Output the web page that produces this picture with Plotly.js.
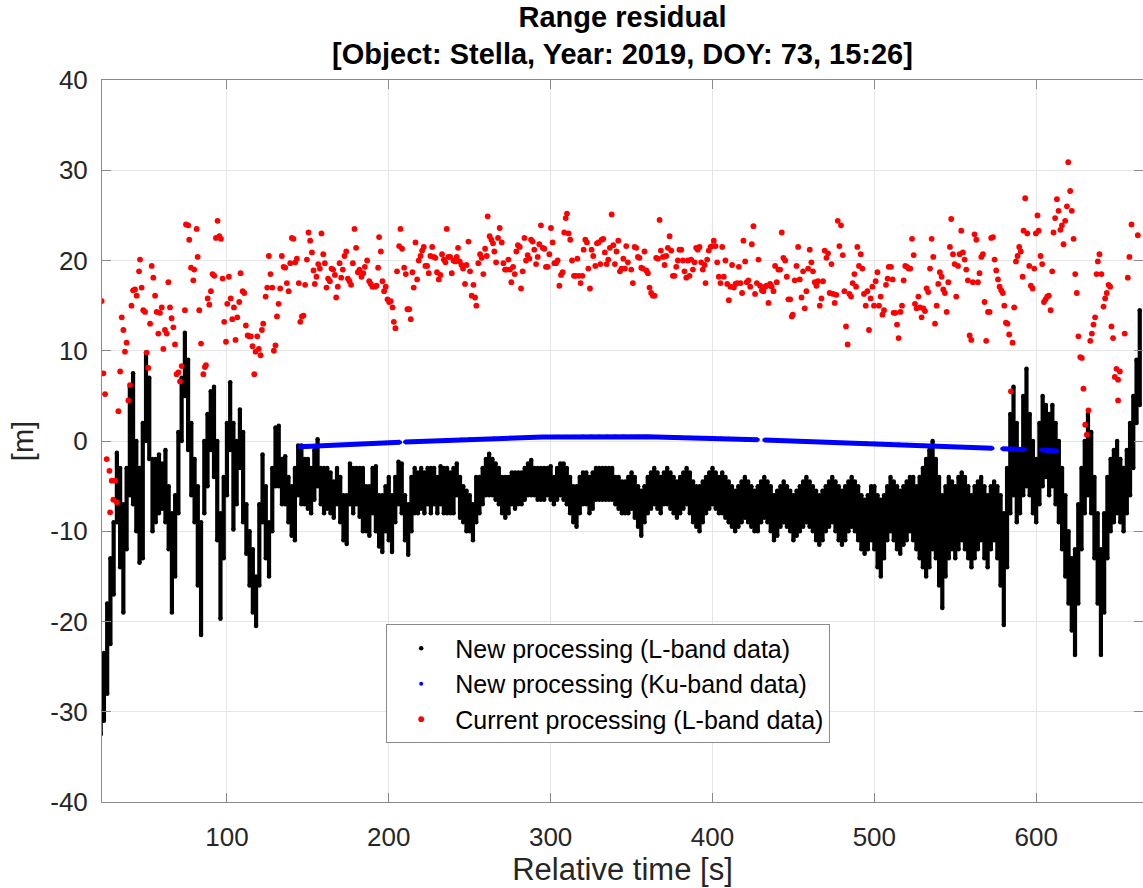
<!DOCTYPE html>
<html>
<head>
<meta charset="utf-8">
<script src="https://cdn.plot.ly/plotly-3.0.1.min.js"></script>
<style>
html,body{margin:0;padding:0;overflow:hidden;background:#fff;}
#chart{width:1143px;height:888px;}
</style>
</head>
<body>
<div id="chart"></div>
<script>
// ---- New processing (L-band): sampled every 2 s, upper / lower extent of the dense cloud ----
const blackT = [
22,24,26,28,30,32,34,36,38,40,
42,44,46,48,50,52,54,56,58,60,
62,64,66,68,70,72,74,76,78,80,
82,84,86,88,90,92,94,96,98,100,
102,104,106,108,110,112,114,116,118,120,
122,124,126,128,130,132,134,136,138,140,
142,144,146,148,150,152,154,156,158,160,
162,164,166,168,170,172,174,176,178,180,
182,184,186,188,190,192,194,196,198,200,
202,204,206,208,210,212,214,216,218,220,
222,224,226,228,230,232,234,236,238,240,
242,244,246,248,250,252,254,256,258,260,
262,264,266,268,270,272,274,276,278,280,
282,284,286,288,290,292,294,296,298,300,
302,304,306,308,310,312,314,316,318,320,
322,324,326,328,330,332,334,336,338,340,
342,344,346,348,350,352,354,356,358,360,
362,364,366,368,370,372,374,376,378,380,
382,384,386,388,390,392,394,396,398,400,
402,404,406,408,410,412,414,416,418,420,
422,424,426,428,430,432,434,436,438,440,
442,444,446,448,450,452,454,456,458,460,
462,464,466,468,470,472,474,476,478,480,
482,484,486,488,490,492,494,496,498,500,
502,504,506,508,510,512,514,516,518,520,
522,524,526,528,530,532,534,536,538,540,
542,544,546,548,550,552,554,556,558,560,
562,564,566,568,570,572,574,576,578,580,
582,584,586,588,590,592,594,596,598,600,
602,604,606,608,610,612,614,616,618,620,
622,624,626,628,630,632,634,636,638,640,
642,644,646,648,650,652,654,656,658,660,
662,664];
const blackHi = [
-24,-23.5,-18,-13,-9,-1.3,-3,-7,-3,6,
7.5,0,-3,2,9.8,7,-2,-2,-1.5,-2.5,
-1,-5,-8,-6,1,7,12,9,2,-2,
-5,-9,0,3,5.5,6,0,-8,-4,2,
6.5,2,0,3.5,1,-7,-10,-12,-15,-7,
-1.5,-5,-9,-3,1.5,1.7,-2,-1.7,-4,-5,
-3,-0.5,-0.5,-2,-2,-3,-1,0.2,-3,-3,
-3,-3.5,-4.5,-3,-4,-6,-6,-2.5,-3,-3,
-3,-3,-5,-5,-3,-2.8,-6,-6,-5,-4,
-6,-4,-2.3,-2.5,-6,-7,-4,-3,-3.5,-3,
-3.5,-3,-3,-3,-4,-2.8,-3,-3,-3.5,-3,
-2.5,-4,-5,-5.5,-6,-7,-4,-4,-3,-2,
-1.4,-2,-2.5,-3,-4,-4,-4,-3.5,-3.5,-3.5,
-3.5,-3,-2.5,-2.1,-3,-3,-3,-3,-3,-2.8,
-4,-3,-2.5,-2.5,-3,-4,-5,-5,-4,-3.5,
-3.5,-4,-3.5,-3,-3,-3,-3,-3,-3,-4,
-4,-4.5,-4.5,-4,-3.5,-4,-5,-5.5,-5,-4,
-3.5,-3,-3.5,-4,-3.5,-3,-3.5,-4,-4.5,-4,
-3.5,-3,-3.5,-4.5,-5,-5,-4.5,-4,-3.5,-3,
-3.5,-4,-3.5,-4,-4.5,-5,-5.5,-5,-4.5,-4,
-4.5,-5,-5.5,-5,-4.5,-4,-4.5,-5,-6,-5.5,
-5,-4.5,-5,-5.5,-6,-5.5,-5,-4.5,-4,-4.5,
-5,-5.5,-6,-5.5,-5,-4.5,-4,-4.5,-5,-5.5,
-5,-4.5,-4,-4.5,-5,-6,-6.5,-6,-5,-5,
-6,-6.5,-6,-5,-4,-4.5,-5,-5.5,-5,-4.5,
-4,-4,-5,-4,-3,-2,-1,0,-2,-4,
-6,-5,-4,-4.5,-5,-4,-3.5,-4,-5,-6,
-5,-4.5,-4,-5,-6,-5,-4.5,-5,-6,-8,
-3,3,6,2,-1,5,8,3,0,-2,
2,5,4,3,4,2,0,-3,-6,-10,
-13,-12,-7,-3,0,3,1,-4,-8,-12,
-8,-4,-2,-1,0,-2,-3,-1,2,5,
9,14.5];
const blackLo = [
-32.5,-31,-28,-22.5,-17,-9,-14,-19,-12,-6,
-7,-10,-13.5,-13,0,-2,-10,-9,-8,-7.5,
-9,-12,-19,-15,-8,0,5,-1,-6,-9,
-16,-21.5,-8,-5,-1,-4,-11,-19.7,-13,-6,
-1,-9.8,-7,-3,-9,-12.5,-16,-19,-20.5,-16,
-9,-13,-15,-10,-5,-5,-7,-7,-9,-10.5,
-11,-6,-7,-7,-7.5,-8,-6.5,-5,-7,-8,
-7.5,-8,-8.5,-7,-9,-11,-11.4,-7,-8,-7,
-8.4,-10,-10,-10.5,-8,-10,-11.7,-12.3,-10,-11,
-12.3,-9,-7,-8,-11,-12.6,-10,-8,-8,-7.5,
-8,-7,-8,-7,-8,-7,-8,-8,-8,-8,
-6,-8.5,-9,-10,-10,-11,-9,-8,-7,-6,
-6,-6,-6.5,-7,-8,-8.5,-8,-7,-7.5,-7,
-7,-6.5,-6,-6,-6,-6.5,-6.5,-6.5,-6,-6.5,
-7,-6.5,-6,-6.5,-7,-8,-9,-9.5,-8,-7,
-7,-8,-7.5,-6.5,-6.5,-6.5,-6.5,-6.5,-6.5,-7,
-7.5,-8,-8,-8,-7.5,-8.5,-9.5,-10.5,-9,-8,
-7.5,-7,-7.5,-8,-7,-7,-7.5,-8,-8.5,-8,
-7.5,-7,-8,-9,-9.5,-10,-9,-8,-7.5,-7,
-7.5,-8,-8,-8.5,-9,-9.5,-10,-9.5,-9,-8.5,
-9,-9.5,-10,-10,-9,-8.5,-9,-10,-11,-10.5,
-9.5,-9,-9.5,-10,-11,-10.5,-10,-9.5,-9,-9.5,
-10,-11,-11.5,-11,-10,-9.5,-9,-10,-11,-11.5,
-11,-10,-9.5,-10,-11,-12,-12.5,-12,-11,-12,
-14,-15,-13,-11,-10,-11,-12,-12.5,-11.5,-11,
-10,-11,-12,-13,-14,-15,-14,-12,-13,-16,
-18.5,-15,-13,-12,-13,-12,-11,-12,-13,-14,
-13,-12,-11,-13,-14,-12,-11,-13,-16,-20.4,
-14,-8,-6,-9,-8,-6,-5,-6,-8,-9,
-7,-5,-4,-6,-5,-7,-9,-12,-15,-18,
-21,-23.7,-18,-12,-8,-6,-8,-13,-18,-23.7,
-19,-13,-10,-9,-8,-9,-10,-8,-6,-3,
2,4];

// ---- New processing (Ku-band) ----
const kuT = [145,150,155,160,165,170,175,180,185,190,195,200,205,207,208.5,
210,215,220,225,230,235,240,245,250,255,260,265,270,275,280,285,290,295,300,
305,310,315,320,325,330,335,340,345,350,355,360,365,370,375,380,385,390,395,400,
405,410,415,420,425,428,430,
432,435,440,445,450,455,460,465,470,475,480,485,490,495,500,505,510,515,520,525,
530,535,540,545,550,555,560,565,570,573,576,
579,585,590,593,598,
603,608,613];
const kuV = [-0.65,-0.6,-0.56,-0.52,-0.48,-0.44,-0.4,-0.36,-0.32,-0.28,-0.24,-0.2,-0.16,-0.15,null,
-0.12,-0.08,-0.04,0,0.04,0.08,0.12,0.16,0.2,0.23,0.26,0.29,0.32,0.35,0.37,0.39,0.41,0.43,0.45,
0.46,0.47,0.48,0.49,0.5,0.5,0.5,0.5,0.49,0.48,0.47,0.46,0.44,0.42,0.4,0.38,0.36,0.34,0.32,0.3,
0.27,0.24,0.21,0.18,0.15,0.13,null,
0.1,0.08,0.05,0.02,-0.01,-0.04,-0.07,-0.1,-0.13,-0.16,-0.19,-0.22,-0.24,-0.26,-0.28,-0.3,-0.34,-0.38,-0.42,-0.46,
-0.5,-0.54,-0.58,-0.62,-0.66,-0.69,-0.72,-0.75,-0.78,-0.8,null,
-0.85,-0.9,-0.93,-0.95,null,
-1.0,-1.05,-1.1];

// ---- Current processing (L-band) ----
const redT = [22.6,23.7,24.7,25.7,27.4,27.8,28.8,29.8,30.9,31.9,32.9,34,35,36,37,38,39.1,40.1,41,42,
43.2,44.2,45.7,46.3,47.3,48.3,49.4,50.4,51.4,52.5,53.5,54.5,55.6,56.6,57.6,58.6,59.7,60.7,61.7,62.8,
63.8,64.8,65.8,66.9,67.9,68.9,70,71,72,74,74.7,76.1,76.7,77.8,79.2,79.8,81.3,81.9,82.9,84,
85.4,86.4,87,88.1,89.1,90.1,91.1,92.2,93.2,94.2,95.3,96.3,97.3,98.3,99.4,100.2,101.2,102.3,103.3,104.3,
105.3,106.4,107.6,108.4,109.7,110.7,111.7,112.8,113.8,114.8,115.8,116.9,117.7,118.7,119.7,120.8,121.6,122.4,123.9,124.9,
125.9,126.9,128,129,130,130.9,131.9,132.9,133.9,135,136,137,138.1,139.1,140.1,141.1,142.2,143.2,144.4,145.3,
146.3,147.3,148.3,149.4,150.4,151.4,152.5,153.5,154.3,155.3,156.4,157.4,158.4,159.5,160.5,161.5,162.5,163.6,164.6,165.6,
166.7,167.5,168.5,169.6,170.6,171.6,172.6,173.7,174.7,175.7,176.7,177.8,178.8,179.8,180.9,181.9,
183.1,184.2,185.2,186.6,187.9,188.9,189.9,191.4,192.4,193.4,194,195.1,196.1,197.1,198.1,199.2,200.2,201.2,202.3,203.1,
204.1,205.1,206.4,207.2,208.2,209.5,210.5,211.5,212.6,213.6,214.6,215.4,216.5,217.5,218.5,219.6,220.6,221.6,222.6,223.7,
224.7,225.7,226.8,227.8,228.8,229.8,230.9,231.9,232.9,234,235,235.8,236.8,237.9,238.9,239.9,241,242,242.8,243.8,
244.9,245.9,247.1,248,249.2,250.2,251.2,252.3,253.3,254.1,255.3,256.4,257.4,258.4,259.5,260.5,261.1,262.3,263.4,264.4,
265.2,266.3,267.5,268.5,269.8,270.8,271.8,272.8,273.9,274.9,275.7,276.8,277.8,278.8,279.8,280.9,281.7,282.7,283.8,284.8,
285.8,286.8,287.9,288.9,289.9,291,292,293,294,295.1,296.1,297.1,298.2,299.2,300.2,301.2,302.3,303.3,304.3,305.4,
306.4,307.4,308.4,309.3,310.1,311.1,312.1,313.2,314.4,315.4,316.5,317.5,318.5,319.6,320.4,321.4,322.4,323.3,324.3,325.3,
326.3,327.6,328.6,329.6,330.7,331.5,332.5,333.5,334.6,335.6,336.6,337.7,338.7,339.7,340.7,341.8,342.8,343.8,344.9,345.9,
346.7,347.7,349.8,350.8,351.9,352.9,353.9,354.9,356,357,358,359.1,360.1,361.1,362.1,363.2,364.2,365.2,366.3,367.3,
368.1,369.4,370.4,371.4,372.4,373.5,374.5,375.5,376.5,377.6,378.6,379.6,380.7,381.7,382.7,383.8,384.8,385.8,386.8,387.9,
388.9,389.9,390.9,392,393,394,395.1,395.7,396.7,397.7,398.8,399.8,400.8,401.9,402.9,403.9,404.9,406,407,408,
409.1,410.1,411.1,412.1,413.2,414.2,415.2,416.3,417.3,418.3,419.1,420.2,421.2,422.2,423.3,424.3,425.3,426.3,427.4,428.4,
429.4,430.5,431.5,432.5,433.5,434.6,435.6,436.6,437.7,438.7,439.7,440.7,441.8,442.8,443.8,444.9,445.9,446.9,448,449,
449.6,450.8,451.9,452.9,453.9,455,456,457,458,459.1,460.1,461.1,462.1,463.2,464.2,465.2,466.3,467.3,468.3,469.3,
470.4,471.4,472.4,473.5,474.5,475.5,476.5,477.4,478.4,479.4,480.5,481.5,482.5,483.5,484.6,485.6,486.6,487.7,488.7,489.5,
490.5,491.6,492.6,493.6,494.7,495.7,496.7,497.7,498.8,499.8,500.8,501.9,502.9,503.9,505,506,507.2,508.2,508.9,
510.3,511.3,511.9,513,514,515,516.1,517.1,518.1,519.1,520.2,521.2,522.2,523.3,524.3,525.1,526.1,527.2,528.2,529.2,
530.3,531.3,532.3,533.3,534.4,535.4,536.4,537.5,538.5,539.5,540.5,541.6,542.6,543.6,544.7,545.7,546.7,547.5,548.6,549.6,
550.6,551.7,552.7,553.7,554.7,555.8,556.8,557.8,558.9,559.9,560.9,561.9,563,564,565,566.1,567.1,568.1,569.1,570.2,
571.2,572.2,573.3,574.3,575.3,576.4,577.4,578.4,579.4,580.3,581.3,582.3,583.3,584.4,585.4,586.4,587.5,588.5,589.5,590.5,
591.6,592.2,593.2,594.5,595.7,596.7,597.8,598.8,599.8,600.8,601.5,602.7,603.7,604.8,605.8,606.8,607.8,608.9,609.9,610.7,
611.7,612.8,613.8,615,615.9,616.9,617.9,619,619.8,621,622,623.1,624.1,625.1,626.1,627.2,628.2,629.2,630.3,631.3,
632.3,633.4,634.4,635.4,636.4,637.3,638.1,639.1,640.3,641.6,642.6,643.6,644.7,645.7,646.5,647.5,648.6,649.6,650.6,651.7,
650.6,654.7,656.6,657.6,658.9,662.8];
const redV = [15.5,7.5,5.2,-2,-3.3,-7.9,-4.4,-6.5,-4.4,-6.8,3.3,7.7,13.7,12.3,9.9,10.9,4.5,6.2,15,16.7,
16.8,16.1,18.8,20.1,17,14.5,14.3,9.8,8.1,13,19.4,18.1,16.1,14.3,11.9,14.2,14.8,10.2,12.3,11.9,
17.6,14.8,13.6,12.6,10.7,7.4,7.6,6.6,8.3,14.5,24,23.9,22.3,19.2,17.8,19,23.5,20.4,14.5,10.8,
7.4,8.2,8.4,15.8,15.1,16.6,18.5,18.3,22.5,24.4,22.7,22.4,18,13.2,11,15.2,18.2,15.8,13.5,14.8,
11.2,13.7,15.4,18.6,16.6,16.4,12.8,11.7,11.6,11.6,10.5,7.4,9.9,11.6,10.2,9.5,12.3,13,16,17,
20.5,18.5,17,10,10.6,13.8,15.2,16.9,20.5,19.3,19.2,17.5,16.6,19.7,22.5,22.4,19.8,20.2,17.5,13.2,
13.8,13.9,17.3,20.1,23.1,22.2,20.9,18.9,17.4,18.2,19.6,19.1,23,20.7,19.7,17,18,17.7,19.1,19,
18.4,15.9,17.1,19.7,18.1,19,20.5,21,18,17.7,17.3,19.7,23.5,21.4,18.7,19,
18.2,18.6,19.3,20,17.7,17.4,17.1,17.1,17.2,19.2,22.6,21,17.7,16.6,17.1,15.7,15.4,15.5,14.8,13.2,
12.5,18.8,21.6,23.5,21.3,19.2,18.5,14.6,14.6,13.5,18.7,17,22,17.9,20,20.5,21.1,21.5,19.4,19.4,
18.6,20.5,21.5,20.4,20.3,18.7,17.9,18.4,20.7,20.1,19.8,23.5,20.4,20.4,18.6,20,19.9,20.4,21.4,19.9,
19.5,19.1,17.4,19.5,22.1,18.8,16.1,17.3,15.9,15,19.7,20.7,20.3,18.5,21.3,20.5,24.9,22.7,22.3,21.9,
21,19.8,22.5,23.6,22,19.7,19,19,20.1,19,17.6,19.3,18.5,21,21.7,21.5,16.9,18.8,22.5,20,
20.6,20.2,22.3,22.1,21.2,19.6,20.4,21.8,23.9,21.4,21.3,19.3,19.3,20.7,23.6,22,19.7,19.7,20,17.2,
18.4,18.7,23.1,24.7,25.2,23,22.3,20,18.3,18.3,20.2,18.3,17.5,18.3,21.2,22.3,22,19.1,16.9,21.2,
20.5,19.4,21.9,22,19.6,22.3,22.4,20.9,19.6,20.1,21.4,25.1,21.7,19.6,21,22.2,18.8,19.1,20.2,19.1,
21.6,19.8,19,17.5,21.5,21.4,20.4,20.3,19.2,19.1,21,18.9,18.6,17,16.4,16.1,16.1,20.3,20.2,24.5,
21.1,20.4,19.5,20.5,21.4,22.7,21.1,18.3,18.3,19.3,20,21.2,21.2,20,18.8,18.1,20,18.3,20.1,19,
19.8,21.4,21.2,21.5,19.8,19,19.5,17.5,20.1,21.1,21.5,21.6,22.2,21.6,19.8,18.2,17.5,21.5,18.2,20,
17.4,15.6,17.1,19.5,17,17.4,17.5,19.3,17.5,16.4,22.2,19.9,17.6,17.8,17.1,21.8,23.8,16.3,17.5,20.1,
17.2,16.7,16.6,17.1,17.2,15.3,17.4,17.1,16.6,19.4,17.6,19,19,23.1,20.3,20,18.2,15.7,15.7,13.8,
14,17.8,19.4,21.5,17.9,15.9,18.8,14.7,16.6,19.1,21.2,19.8,18.8,17.6,17.2,17.7,15,15.8,17.7,21.1,
20.3,20.8,16.4,19.6,16.3,15.3,16.2,24.4,21.6,23.9,20.6,16.6,12.7,10.7,16.3,16,17.5,18.5,17.1,21.5,
19.4,20.7,19.1,16.3,15,16.6,12.3,15.8,17.1,15,17.7,18.7,15,16,14,14.5,17.3,18,19.3,
19.3,17.9,14.2,14.2,12.9,11.4,14.3,15,17.8,19.4,19.3,19.1,19.1,22.4,20.6,15.2,14.7,16,14.8,13.7,
14.7,14.4,16.9,16.5,19.1,22.4,20.4,13,15,17.4,18.7,18.2,16.8,16.4,14.3,17.6,21.5,24.6,20.7,19.6,
16,19.4,20.7,23.3,20.9,20.1,19,17.8,11.7,11.2,17.6,22.9,22.3,17.6,18.6,20.4,20.7,15.4,11.1,14.3,
14.3,22.5,22.6,20.1,18.9,17.9,17.1,16.7,16.4,15,13.1,13,11.8,5.5,10.9,14.8,19.9,20.5,21.5,21,
18.2,23.3,26.9,23,19.4,17.2,16.9,19.1,23,25,23.3,20.5,19.6,15.4,15.7,16,16.1,14.5,18.8,23.1,
24.7,26.8,25.5,23.4,23.9,21.8,24.4,26,30.9,27.7,25.5,22.4,18.5,16.4,11.6,9.3,9.2,5.8,1.8,0.7,
3.4,11.1,11.9,12.9,13.7,18.5,19.9,20.7,18.5,14.9,15.8,16.4,17.3,17.1,12.7,11.4,7.1,8,6.8,7.7,
4.5,11.9,18.1,20.4,24,22.8];

const yTickVals = [-40,-30,-20,-10,0,10,20,30,40];
const yTickText = ['-40','-30','-20','-10','0','10','20','30','40'];
const xTickVals = [100,200,300,400,500,600];

// ---- build traces from the arrays ----
const segX = [], segY = [];
blackT.forEach((t, i) => { segX.push(t, t, null); segY.push(blackLo[i], blackHi[i], null); });

const FONT = 'Liberation Sans, Arial, Helvetica, sans-serif';

const traces = [
  {x: segX, y: segY, type: 'scatter', mode: 'lines', line: {color: '#000000', width: 4.2},
   hoverinfo: 'skip', showlegend: false, legendgroup: 'L'},
  {x: blackT.concat(blackT), y: blackHi.concat(blackLo), type: 'scatter', mode: 'markers',
   marker: {color: '#000000', size: 4.5}, name: 'New processing (L-band data)', legendgroup: 'L'},
  {x: kuT, y: kuV, type: 'scatter', mode: 'lines', line: {color: '#0000ff', width: 5},
   connectgaps: false, showlegend: false, legendgroup: 'K', hoverinfo: 'skip'},
  {x: kuT, y: kuV, type: 'scatter', mode: 'markers', marker: {color: '#0000ff', size: 4},
   name: 'New processing (Ku-band data)', legendgroup: 'K'},
  {x: redT, y: redV, type: 'scatter', mode: 'markers', marker: {color: '#ff0000', size: 5.8},
   name: 'Current processing (L-band data)'}
];

const axisCommon = {
  ticks: 'inside', ticklen: 9, tickwidth: 1, tickcolor: '#8a8a8a',
  showline: true, linecolor: '#8a8a8a', linewidth: 1, mirror: 'ticks',
  showgrid: true, gridcolor: '#e6e6e6', gridwidth: 1, zeroline: false,
  tickfont: {family: FONT, size: 26, color: '#262626'}
};

const layout = {
  width: 1143, height: 888,
  margin: {l: 102, r: 0, t: 80, b: 86},
  paper_bgcolor: '#ffffff', plot_bgcolor: '#ffffff',
  font: {family: FONT, color: '#262626'},
  title: {text: '<b>Range residual</b><br><b>[Object: Stella, Year: 2019, DOY: 73, 15:26]</b>',
          font: {family: FONT, size: 29, color: '#000000'},
          xref: 'paper', x: 0.5, xanchor: 'center', yref: 'container', y: 0.97, yanchor: 'top'},
  xaxis: Object.assign({}, axisCommon, {
    range: [22.8, 666], tickmode: 'array', tickvals: xTickVals,
    ticklabelstandoff: 12,
    title: {text: 'Relative time [s]', font: {family: FONT, size: 31, color: '#262626'}, standoff: 4}
  }),
  yaxis: Object.assign({}, axisCommon, {
    range: [-40, 40], tickmode: 'array', tickvals: yTickVals, ticktext: yTickText,
    ticklabelstandoff: 8,
    title: {text: '[m]', font: {family: FONT, size: 29, color: '#262626'}, standoff: 8}
  }),
  showlegend: true,
  legend: {x: 0.273, xanchor: 'left', y: 0.246, yanchor: 'top',
           bgcolor: '#ffffff', bordercolor: '#8a8a8a', borderwidth: 1, itemwidth: 58,
           font: {family: FONT, size: 25, color: '#000000'}, tracegroupgap: 0}
};

Plotly.newPlot('chart', traces, layout, {displayModeBar: false, staticPlot: true});
</script>
</body>
</html>
